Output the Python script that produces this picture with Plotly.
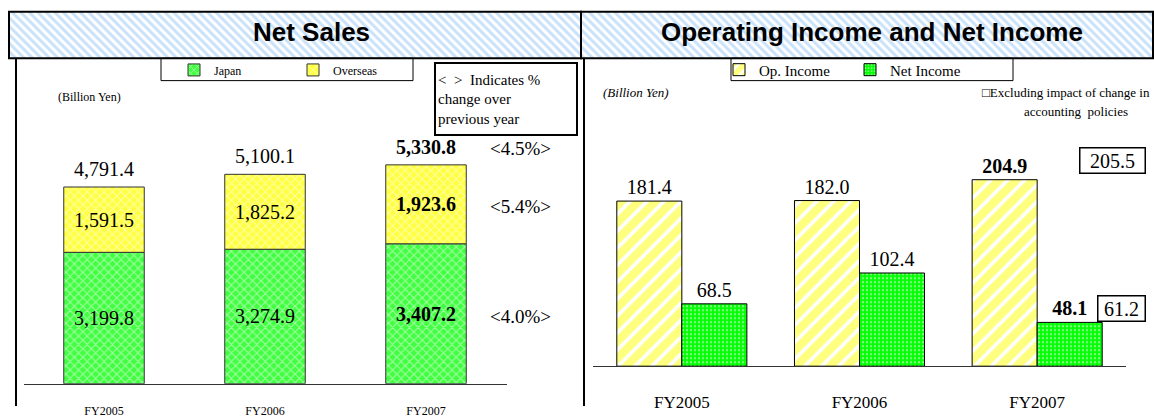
import plotly.graph_objects as go

W, H = 1154, 418

# ---------------- data ----------------
years = ["FY2005", "FY2006", "FY2007"]
japan = [3199.8, 3274.9, 3407.2]
overseas = [1591.5, 1825.2, 1923.6]
net_sales = [4791.4, 5100.1, 5330.8]
# % change over previous year (FY2007): total, overseas, japan
chg_total = 4.5
chg_overseas = 5.4
chg_japan = 4.0

op_income = [181.4, 182.0, 204.9]
net_income = [68.5, 102.4, 48.1]
# FY2007 excluding impact of change in accounting policies
op_income_adj = 205.5
net_income_adj = 61.2
latest = "FY2007"

SERIF = "Liberation Serif"
SANS = "Liberation Sans"


def px(x):
    return x / W


def py(y):
    return 1 - y / H


def fmt(v, yr):
    s = f"{v:,.1f}"
    return f"<b>{s}</b>" if yr == latest else s


fig = go.Figure()

# ---------------- Net Sales (stacked) ----------------
fig.add_trace(go.Bar(
    x=years, y=japan, width=0.5, name="Japan",
    xaxis="x", yaxis="y", legend="legend",
    marker=dict(color="#40FF40",
                pattern=dict(shape="x", fgcolor="white", bgcolor="#40FF40", size=6, solidity=0.35),
                line=dict(color="#333333", width=1)),
    text=[fmt(v, yr) for v, yr in zip(japan, years)],
    textposition="inside", insidetextanchor="middle", constraintext="none",
    textfont=dict(family=SERIF, size=20, color="black"), hoverinfo="skip",
))
fig.add_trace(go.Bar(
    x=years, y=overseas, base=japan, width=0.5, name="Overseas",
    xaxis="x", yaxis="y", legend="legend",
    marker=dict(color="#FFFF40",
                pattern=dict(shape="x", fgcolor="white", bgcolor="#FFFF40", size=6, solidity=0.35),
                line=dict(color="#333333", width=1)),
    text=[fmt(v, yr) for v, yr in zip(overseas, years)],
    textposition="inside", insidetextanchor="middle", constraintext="none",
    textfont=dict(family=SERIF, size=20, color="black"), hoverinfo="skip",
))

# ---------------- Operating / Net income (grouped) ----------------
BW = 0.366
fig.add_trace(go.Bar(
    x=years, y=op_income, offset=-BW, width=BW, name="Op. Income",
    xaxis="x2", yaxis="y2", legend="legend2",
    marker=dict(color="#FFFF00",
                pattern=dict(shape="/", fgcolor="#FFFF00", bgcolor="white", size=12, solidity=0.7),
                line=dict(color="black", width=1)),
    text=[fmt(v, yr) for v, yr in zip(op_income, years)],
    textposition="outside", constraintext="none", cliponaxis=False,
    textfont=dict(family=SERIF, size=20, color="black"), hoverinfo="skip",
))
fig.add_trace(go.Bar(
    x=years, y=net_income, offset=0, width=BW, name="Net Income",
    xaxis="x2", yaxis="y2", legend="legend2",
    marker=dict(color="#00FF00",
                pattern=dict(shape=".", fgcolor="white", bgcolor="#00FF00", size=4, solidity=0.3),
                line=dict(color="black", width=1)),
    text=[fmt(v, yr) for v, yr in zip(net_income, years)],
    textposition="outside", constraintext="none", cliponaxis=False,
    textfont=dict(family=SERIF, size=20, color="black"), hoverinfo="skip",
))

# ---------------- header bands (striped) ----------------
for x0, x1 in [(9, 581), (581, 1154)]:
    fig.add_trace(go.Scatter(
        x=[x0, x1, x1, x0, x0], y=[12, 12, 60, 60, 12], mode="lines",
        fill="toself", line=dict(width=0),
        fillpattern=dict(shape="\\", fgcolor="#94C6F5", bgcolor="white", size=6, solidity=0.5),
        xaxis="x3", yaxis="y3", showlegend=False, hoverinfo="skip",
    ))

annotations = []

# totals above stacked bars
for yr, v in zip(years, net_sales):
    annotations.append(dict(x=yr, y=v, xref="x", yref="y", text=fmt(v, yr), showarrow=False,
                            xanchor="center", yanchor="bottom", yshift=5,
                            font=dict(family=SERIF, size=20, color="black")))

# % change labels for latest year
i = years.index(latest)
pct_items = [
    (net_sales[i], chg_total, 16),
    (japan[i] + overseas[i] / 2, chg_overseas, -2),
    (japan[i] / 2, chg_japan, -3),
]
for yv, pct, ys in pct_items:
    annotations.append(dict(x=latest, y=yv, xref="x", yref="y", text=f"&lt;{pct:.1f}%&gt;",
                            showarrow=False, xanchor="center", yanchor="middle", xshift=94, yshift=ys,
                            font=dict(family=SERIF, size=19, color="black")))

# boxed adjusted values (placed beside the reported value label)
for yv, adj, ys, bw in [(op_income[i], op_income_adj, 19, 62), (net_income[i], net_income_adj, 14, 44)]:
    annotations.append(dict(x=latest, y=yv, xref="x2", yref="y2", text=f"{adj:.1f}",
                            showarrow=False, xanchor="right", yanchor="middle", xshift=109, yshift=ys,
                            width=bw, bordercolor="black", borderwidth=1.5, borderpad=1,
                            bgcolor="white",
                            font=dict(family=SERIF, size=20, color="black")))


def ptext(x, y, text, size, family=SERIF, **kw):
    d = dict(x=px(x), y=py(y), xref="paper", yref="paper", text=text, showarrow=False,
             xanchor="center", yanchor="middle", font=dict(family=family, size=size, color="black"))
    d.update(kw)
    return d


annotations += [
    ptext(311, 33, "<b>Net Sales</b>", 26, SANS),
    ptext(872, 33, "<b>Operating Income and Net Income</b>", 26, SANS),
    ptext(89, 100, "(Billion Yen)", 12),
    ptext(636, 95, "<i>(Billion Yen)</i>", 13),
    ptext(1066, 95, "□Excluding impact of change in", 13),
    ptext(1076, 115, "accounting  policies", 13),
    dict(x=px(434), y=py(64), xref="paper", yref="paper", xanchor="left", yanchor="top",
         text="&lt;  &gt;  Indicates %<br>change over<br>previous year", align="left",
         showarrow=False, width=136, height=66, bordercolor="black", borderwidth=2, borderpad=2,
         font=dict(family=SERIF, size=15, color="black")),
]


def prect(x0, x1, y0, y1, w):
    return dict(type="rect", xref="paper", yref="paper", x0=px(x0), x1=px(x1), y0=py(y1), y1=py(y0),
                line=dict(color="black", width=w))


shapes = [
    prect(9, 581, 12, 60, 2),
    prect(581, 1153, 12, 60, 2),
    dict(type="line", xref="paper", yref="paper", x0=px(16), x1=px(16), y0=py(60), y1=0,
         line=dict(color="black", width=2)),
    dict(type="line", xref="paper", yref="paper", x0=px(584), x1=px(584), y0=py(60), y1=0,
         line=dict(color="black", width=2)),
    # legend frames
    prect(161, 413, 60, 83, 1),
    prect(731, 1013, 60, 83, 1),
]

fig.update_layout(
    width=W, height=H, margin=dict(l=0, r=0, t=0, b=0),
    paper_bgcolor="white", plot_bgcolor="rgba(0,0,0,0)",
    barmode="overlay", showlegend=True,
    font=dict(family=SERIF, color="black"),
    xaxis=dict(domain=[px(23.5), px(506.5)], anchor="y", type="category", range=[-0.5, 2.5],
               showline=True, linecolor="#333333", linewidth=1, ticks="", showgrid=False, zeroline=False,
               tickfont=dict(family=SERIF, size=12, color="black"), ticklabelstandoff=16),
    yaxis=dict(domain=[py(395), py(62)], anchor="x", range=[0, 7880], visible=False, showgrid=False),
    xaxis2=dict(domain=[px(593), px(1126)], anchor="y2", type="category", range=[-0.5, 2.5],
                showline=True, linecolor="#333333", linewidth=1, ticks="", showgrid=False, zeroline=False,
                tickfont=dict(family=SERIF, size=17, color="black"), ticklabelstandoff=20),
    yaxis2=dict(domain=[py(377), py(62)], anchor="x2", range=[0, 336.2], visible=False, showgrid=False),
    xaxis3=dict(domain=[0, 1], anchor="y3", range=[0, W], visible=False, fixedrange=True),
    yaxis3=dict(domain=[0, 1], anchor="x3", range=[H, 0], visible=False, fixedrange=True),
    legend=dict(orientation="h", x=px(174), y=py(72), xanchor="left", yanchor="middle",
                borderwidth=0, bgcolor="rgba(0,0,0,0)",
                font=dict(family=SERIF, size=12, color="black"),
                entrywidth=74, entrywidthmode="pixels", itemwidth=30),
    legend2=dict(orientation="h", x=px(719), y=py(72), xanchor="left", yanchor="middle",
                 borderwidth=0, bgcolor="rgba(0,0,0,0)",
                 font=dict(family=SERIF, size=15, color="black"),
                 entrywidth=86, entrywidthmode="pixels", itemwidth=30),
    annotations=annotations, shapes=shapes,
)

# place the figure at the page's top-left corner (no default body margin)
fig.write_html("out.html", config={"displayModeBar": False},
               post_script="document.body.style.margin='0';document.body.style.overflow='hidden';")
